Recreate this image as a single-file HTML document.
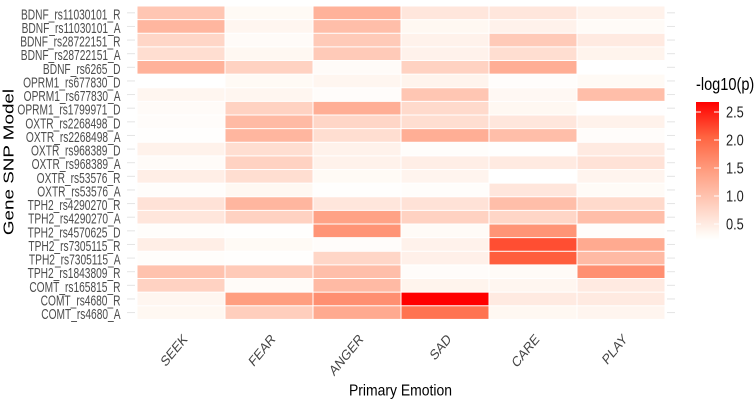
<!DOCTYPE html>
<html>
<head>
<meta charset="utf-8">
<style>
html,body{margin:0;padding:0;background:#fff;}
svg{display:block;font-family:"Liberation Sans",sans-serif;}
</style>
</head>
<body>
<svg id="chart" width="754" height="403" viewBox="0 0 754 403" xmlns="http://www.w3.org/2000/svg">
  <defs>
    <linearGradient id="legend-gradient" x1="0" y1="1" x2="0" y2="0">
      <stop offset="0" stop-color="#ffffff"/>
      <stop offset="0.04" stop-color="#fffaf5"/>
      <stop offset="0.25" stop-color="#ffd0c0"/>
      <stop offset="0.5" stop-color="#ff9e81"/>
      <stop offset="0.75" stop-color="#ff6340"/>
      <stop offset="1" stop-color="#ff0000"/>
    </linearGradient>
  </defs>
  <g id="cells"></g>
  <g id="y-axis"></g>
  <g id="x-axis"></g>
  <text transform="translate(400.5,395.7) scale(0.9,1)" text-anchor="middle" font-size="15.5" fill="#000">Primary Emotion</text>
  <text transform="translate(13.5,162) rotate(-90) scale(1.3,1)" text-anchor="middle" font-size="14.5" fill="#000">Gene SNP Model</text>
  <g id="legend">
    <text transform="translate(696,90) scale(0.81,1)" font-size="18" fill="#000">-log10(p)</text>
    <rect x="696" y="102" width="23" height="138" fill="url(#legend-gradient)"/>
  </g>
</svg>
<script>
var emotions = ["SEEK","FEAR","ANGER","SAD","CARE","PLAY"];
var models = ["BDNF_rs11030101_R","BDNF_rs11030101_A","BDNF_rs28722151_R","BDNF_rs28722151_A","BDNF_rs6265_D","OPRM1_rs677830_D","OPRM1_rs677830_A","OPRM1_rs1799971_D","OXTR_rs2268498_D","OXTR_rs2268498_A","OXTR_rs968389_D","OXTR_rs968389_A","OXTR_rs53576_R","OXTR_rs53576_A","TPH2_rs4290270_R","TPH2_rs4290270_A","TPH2_rs4570625_D","TPH2_rs7305115_R","TPH2_rs7305115_A","TPH2_rs1843809_R","COMT_rs165815_R","COMT_rs4680_R","COMT_rs4680_A"];
var seekValues  = [0.95,1.15,0.75,0.65,1.2,0.2,0.35,0.27,0.25,0.22,0.4,0.27,0.45,0.24,0.6,0.55,0.24,0.45,0.24,1.0,0.8,0.35,0.33];
var fearValues  = [0.3,0.35,0.27,0.33,0.8,0.3,0.35,0.8,1.1,1.15,0.65,0.8,0.65,0.33,1.15,0.8,0.22,0.3,0.22,0.9,0.27,1.45,0.85];
var angerValues = [1.2,1.05,0.9,0.9,0.27,0.35,0.25,1.25,0.75,0.65,0.4,0.4,0.3,0.22,0.55,1.4,1.55,0.25,0.75,1.05,1.1,1.6,1.3];
var sadValues   = [0.55,0.33,0.4,0.4,0.8,0.38,0.95,0.7,0.65,1.25,0.24,0.45,0.37,0.24,0.6,0.8,0.28,0.4,0.42,0.25,0.38,2.69,1.9];
var careValues  = [0.55,0.4,0.9,0.65,1.25,0.24,0.32,0.33,0.55,1.05,0.22,0.5,0.2,0.55,1.05,0.75,1.55,2.2,2.1,0.28,0.35,0.5,0.33];
var playValues  = [0.4,0.28,0.5,0.38,0.2,0.3,1.05,0.21,0.4,0.25,0.5,0.6,0.37,0.28,0.7,1.05,0.24,1.3,1.1,1.6,0.5,0.5,0.36];
var legendTicks = [0.5,1.0,1.5,2.0,2.5];

var NS = "http://www.w3.org/2000/svg";
var series = [seekValues,fearValues,angerValues,sadValues,careValues,playValues];
var plotLeft = 137, plotRight = 665, plotTop = 6, plotBottom = 319.4;
var colStep = (plotRight - plotLeft) / emotions.length;
var rowStep = (plotBottom - plotTop) / models.length;
function xScale(i){ return plotLeft + i * colStep; }
function yScale(i){ return plotTop + i * rowStep; }
function legendY(v){ return 224 - (v - 0.5) * 56; }
var vMin = 0.2, vMax = 2.69;
var stopAt = [0,0.04,0.25,0.5,0.75,1];
var stops = [[255,255,255],[255,250,245],[255,208,192],[255,158,129],[255,99,64],[255,0,0]];
function colorFor(v){
  var t = Math.max(0, Math.min(1, (v - vMin) / (vMax - vMin)));
  var k = 0;
  while (k < stopAt.length - 2 && t > stopAt[k+1]) k++;
  var f = (t - stopAt[k]) / (stopAt[k+1] - stopAt[k]);
  var c = [0,1,2].map(function(j){ return Math.round(stops[k][j] + (stops[k+1][j] - stops[k][j]) * f); });
  return "rgb(" + c.join(",") + ")";
}
function make(tag, parent, attrs){
  var el = document.createElementNS(NS, tag);
  for (var a in attrs) el.setAttribute(a, attrs[a]);
  parent.appendChild(el);
  return el;
}
var cellsG = document.getElementById("cells");
var yG = document.getElementById("y-axis");
var xG = document.getElementById("x-axis");
var legendG = document.getElementById("legend");

series.forEach(function(values, c){
  values.forEach(function(v, r){
    var cell = make("rect", cellsG, {x: xScale(c) + 0.5, y: yScale(r) + 0.5, width: colStep - 1, height: rowStep - 1, fill: colorFor(v)});
    
    
  });
});

models.forEach(function(name, r){
  var cy = yScale(r) + rowStep / 2;
  var tickL = make("line", yG, {x1: 127, x2: 135, y1: cy, y2: cy, stroke: "#e4e4e4", "stroke-width": 1});
  
  
  var tickR = make("line", yG, {x1: 667, x2: 675, y1: cy, y2: cy, stroke: "#e4e4e4", "stroke-width": 1});
  
  
  var label = make("text", yG, {transform: "translate(120.5," + (cy + 6.5) + ") scale(0.68,1)", "text-anchor": "end", "font-size": 15, fill: "#4d4d4d"});
  
  
  label.textContent = name;
});

emotions.forEach(function(name, c){
  var cx = xScale(c) + colStep / 2;
  var label = make("text", xG, {transform: "translate(" + (cx + 7) + ",340) scale(0.82,1) rotate(-45)", "text-anchor": "end", "font-size": 14.5, fill: "#444"});
  
  
  label.textContent = name;
});

legendTicks.forEach(function(v){
  var y = legendY(v);
  var t1 = make("line", legendG, {x1: 696, x2: 701, y1: y, y2: y, stroke: "#fff", "stroke-width": 1});
  
  
  var t2 = make("line", legendG, {x1: 714, x2: 719, y1: y, y2: y, stroke: "#fff", "stroke-width": 1});
  
  
  var label = make("text", legendG, {transform: "translate(726," + (y + 5.5) + ") scale(0.8,1)", "font-size": 16, fill: "#222"});
  
  
  label.textContent = v.toFixed(1);
});
</script>
</body>
</html>
